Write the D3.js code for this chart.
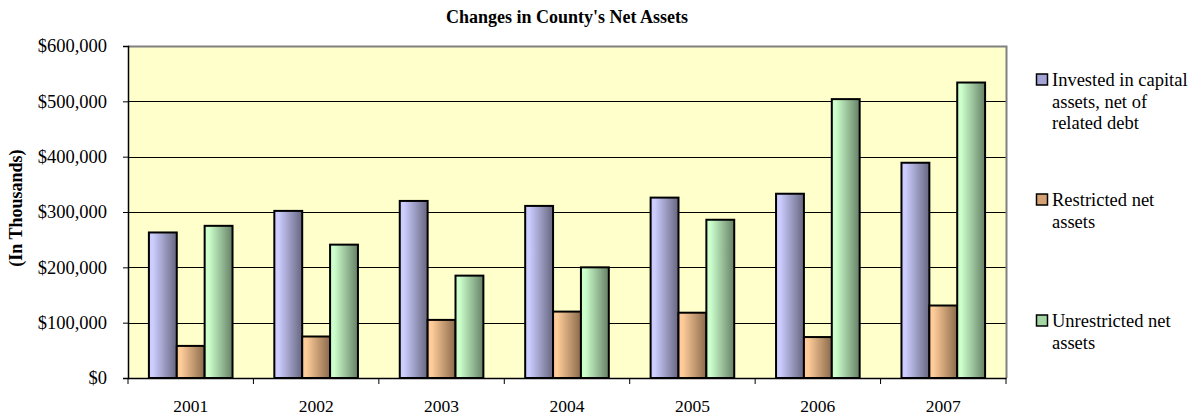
<!DOCTYPE html>
<html>
<head>
<meta charset="utf-8">
<script src="https://cdn.jsdelivr.net/npm/d3@7"></script>
<style>
  body { margin: 0; background: #fff; }
  text { font-family: "Liberation Serif", "Times New Roman", serif; fill: #000; }
</style>
</head>
<body>
<svg id="chart" width="1192" height="416"></svg>
<script>
// Data (in dollars, thousands shown on axis)
var years = ['2001', '2002', '2003', '2004', '2005', '2006', '2007']
var invested = [263000, 302000, 320000, 311000, 326000, 333000, 389000]
var restricted = [58000, 75000, 105000, 120000, 118000, 74000, 131000]
var unrestricted = [275000, 241000, 185000, 200000, 286000, 504000, 534000]
var seriesNames = ['Invested in capital assets, net of related debt', 'Restricted net assets', 'Unrestricted net assets']
var legendLines = [['Invested in capital', 'assets, net of', 'related debt'], ['Restricted net', 'assets'], ['Unrestricted net', 'assets']]
var yTicks = [0, 100000, 200000, 300000, 400000, 500000, 600000]

var series = [invested, restricted, unrestricted]
var colors = [
  { light: '#ccccff', mid: '#a3a3d6', dark: '#66667f' },
  { light: '#ffcc99', mid: '#d6a273', dark: '#8a6a4c' },
  { light: '#ccffcc', mid: '#a3d6a3', dark: '#668066' }
]

var width = 1192,
    height = 416,
    margin = { top: 46, right: 186, bottom: 38, left: 128 }

var svg = d3.select('#chart')
var defs = svg.append('defs')

colors.forEach(function (c, i) {
  var g = defs.append('linearGradient')
    .attr('id', 'grad' + i)
    .attr('x1', '0%').attr('x2', '100%')
    .attr('y1', '0%').attr('y2', '0%')
  g.append('stop').attr('offset', '0%').attr('stop-color', c.light)
  g.append('stop').attr('offset', '15%').attr('stop-color', c.light)
  g.append('stop').attr('offset', '100%').attr('stop-color', c.dark)
})

var x0 = d3.scaleBand()
  .domain(years)
  .range([margin.left, width - margin.right])

// gap width 150%: category = 4.5 bars
var bar = x0.bandwidth() / 4.5
var x1 = d3.scaleBand()
  .domain([0, 1, 2])
  .range([bar * 0.75, bar * 3.75])

var y = d3.scaleLinear()
  .domain([0, 600000])
  .range([height - margin.bottom, margin.top])

// Plot area
svg.append('rect')
  .attr('x', margin.left)
  .attr('y', margin.top)
  .attr('width', width - margin.left - margin.right)
  .attr('height', height - margin.top - margin.bottom)
  .attr('fill', '#ffffcc')

// Gridlines
svg.append('g')
  .selectAll('line')
  .data(yTicks.slice(1, -1))
  .enter()
  .append('line')
  .attr('x1', margin.left)
  .attr('x2', width - margin.right)
  .attr('y1', function (d) { return Math.round(y(d)) + 0.5 })
  .attr('y2', function (d) { return Math.round(y(d)) + 0.5 })
  .attr('stroke', '#000')
  .attr('stroke-width', 1)

// Top and right border
svg.append('path')
  .attr('d', 'M' + margin.left + ',' + (margin.top + 0.5) + 'H' + (width - margin.right + 0.5) + 'V' + (height - margin.bottom))
  .attr('fill', 'none')
  .attr('stroke', '#808080')
  .attr('stroke-width', 2)

// Bars
var groups = svg.append('g')
  .selectAll('g')
  .data(years)
  .enter()
  .append('g')
  .attr('transform', function (d) { return 'translate(' + x0(d) + ',0)' })

groups.selectAll('rect')
  .data(function (d, i) { return series.map(function (s, k) { return { k: k, v: s[i] } }) })
  .enter()
  .append('rect')
  .attr('x', function (d) { return x1(d.k) })
  .attr('y', function (d) { return y(d.v) })
  .attr('width', x1.bandwidth())
  .attr('height', function (d) { return y(0) - y(d.v) })
  .attr('fill', function (d) { return 'url(#grad' + d.k + ')' })
  .attr('stroke', '#000')
  .attr('stroke-width', 2)

// Y axis
var yAxis = svg.append('g')
  .attr('transform', 'translate(' + margin.left + ',0)')
  .call(d3.axisLeft(y).tickValues(yTicks).tickFormat(d3.format('$,')).tickSize(5).tickPadding(16))
yAxis.select('.domain').attr('stroke', '#000').attr('stroke-width', 1.5)
yAxis.selectAll('.tick line').attr('stroke', '#000')
yAxis.selectAll('text').attr('font-size', '18.5px')

// X axis
var xAxis = svg.append('g')
  .attr('transform', 'translate(0,' + y(0) + ')')
  .call(d3.axisBottom(x0).tickSize(0).tickPadding(22))
xAxis.select('.domain').attr('stroke', '#000').attr('stroke-width', 1.5)
xAxis.selectAll('text').attr('font-size', '17.5px')
xAxis.selectAll('line.cat')
  .data(years.concat(['end']))
  .enter()
  .append('line')
  .attr('class', 'cat')
  .attr('x1', function (d) { return d === 'end' ? width - margin.right : x0(d) })
  .attr('x2', function (d) { return d === 'end' ? width - margin.right : x0(d) })
  .attr('y1', 0)
  .attr('y2', 6)
  .attr('stroke', '#000')

// Title
svg.append('text')
  .attr('x', (margin.left + width - margin.right) / 2)
  .attr('y', 23)
  .attr('text-anchor', 'middle')
  .attr('font-size', '18px')
  .attr('font-weight', 'bold')
  .text("Changes in County's Net Assets")

// Y label
svg.append('text')
  .attr('transform', 'translate(22,208) rotate(-90)')
  .attr('text-anchor', 'middle')
  .attr('font-size', '18px')
  .attr('font-weight', 'bold')
  .text('(In Thousands)')

// Legend
var legendTops = [80, 200, 321]
var legend = svg.append('g')
  .selectAll('g')
  .data(seriesNames)
  .enter()
  .append('g')
  .attr('transform', function (d, i) { return 'translate(1036,' + legendTops[i] + ')' })

legend.append('rect')
  .attr('x', 0.5)
  .attr('y', -6)
  .attr('width', 11)
  .attr('height', 11)
  .attr('fill', function (d, i) { return colors[i].mid })
  .attr('stroke', '#000')
  .attr('stroke-width', 1.5)

legend.append('text')
  .attr('x', 16)
  .attr('font-size', '18.5px')
  .selectAll('tspan')
  .data(function (d, i) { return legendLines[i] })
  .enter()
  .append('tspan')
  .attr('x', 16)
  .attr('y', function (d, j) { return 6 + j * 21.5 })
  .text(function (d) { return d })
</script>
</body>
</html>
